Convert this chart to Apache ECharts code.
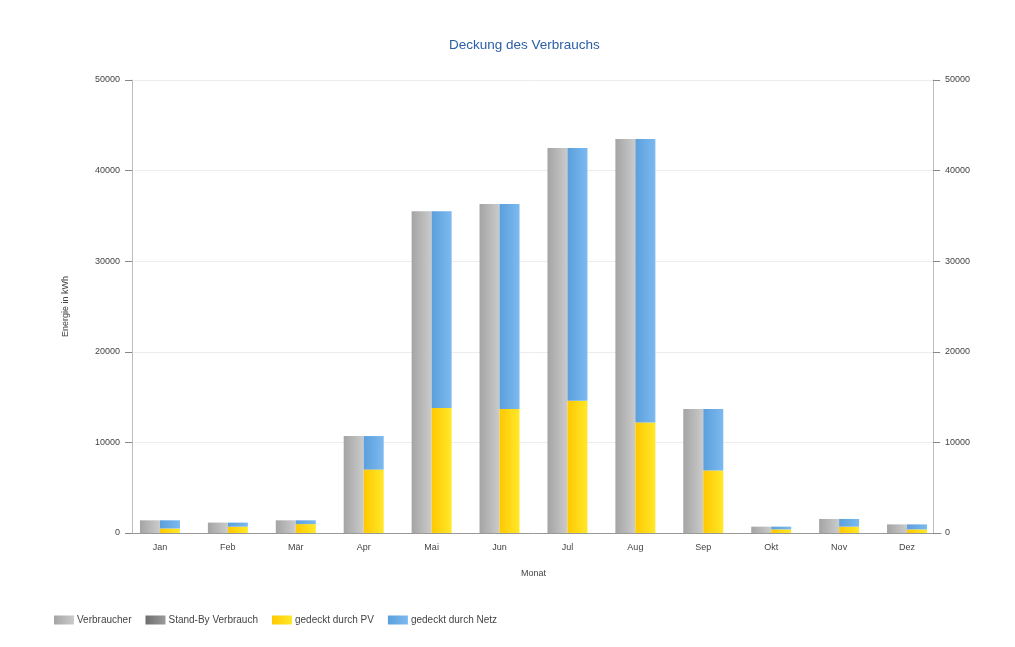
<!DOCTYPE html>
<html><head><meta charset="utf-8">
<script src="https://cdn.jsdelivr.net/npm/echarts@6/dist/echarts.min.js"></script>
<style>html,body{margin:0;padding:0;background:#fff}#c{width:1015px;height:647px}</style>
</head><body><div id="c"></div>
<script>
const months = ['Jan','Feb','Mär','Apr','Mai','Jun','Jul','Aug','Sep','Okt','Nov','Dez'];
const verbraucher = [1400,1150,1400,10700,35500,36300,42500,43500,13700,700,1550,950];
const standBy = [0,0,0,0,0,0,0,0,0,0,0,0];
const pv = [500,700,980,7000,13800,13700,14600,12200,6900,400,700,400];
const netz = verbraucher.map((v,i)=>v-pv[i]);
const yTicks = [0,10000,20000,30000,40000,50000];

function grad(a,b){return new echarts.graphic.LinearGradient(0,0,1,0,[{offset:0,color:a},{offset:1,color:b}]);}
const font = 'Liberation Sans';
const chart = echarts.init(document.getElementById('c'));
const yAxisCommon = {
  type:'value', min:yTicks[0], max:yTicks[yTicks.length-1], interval:10000,
  axisLine:{show:true,lineStyle:{color:'#bdbdbd'}},
  axisTick:{show:true,length:7,lineStyle:{color:'#888'}},
  axisLabel:{fontFamily:font,fontSize:9,color:'#444',margin:12,formatter:v=>String(v)},
  splitLine:{show:true,lineStyle:{color:'#ececec'}}
};
chart.setOption({
  animation:false,
  title:{text:'Deckung des Verbrauchs',left:444,top:33,textStyle:{fontFamily:font,fontSize:13.5,fontWeight:'normal',color:'#2a5ea8'}},
  legend:{left:49,top:610,itemWidth:20,itemHeight:9,itemGap:14,icon:'rect',
    textStyle:{fontFamily:font,fontSize:10,color:'#444',padding:[0,0,0,-2]},
    data:['Verbraucher','Stand-By Verbrauch','gedeckt durch PV','gedeckt durch Netz']},
  grid:{left:126,right:74,top:80,bottom:114},
  xAxis:{type:'category',data:months,name:'Monat',nameLocation:'middle',nameGap:36,
    nameTextStyle:{fontFamily:font,fontSize:9,color:'#444'},
    axisLine:{lineStyle:{color:'#999'}},axisTick:{alignWithLabel:true,length:5,lineStyle:{color:'#666'}},
    axisLabel:{fontFamily:font,fontSize:9,color:'#444',margin:10}},
  yAxis:[
    Object.assign({},yAxisCommon,{position:'left',offset:-6,name:'Energie in kWh',nameLocation:'middle',nameGap:62,nameRotate:90,
      nameTextStyle:{fontFamily:font,fontSize:9,color:'#444'}}),
    Object.assign({},yAxisCommon,{position:'right',offset:-8,splitLine:{show:false}})
  ],
  series:[
    {name:'Verbraucher',type:'bar',stack:'a',barWidth:20,barGap:'0%',data:verbraucher,
      itemStyle:{color:grad('#a4a4a4','#cbcbcb')}},
    {name:'Stand-By Verbrauch',type:'bar',stack:'a',barWidth:20,barGap:'0%',data:standBy,
      itemStyle:{color:grad('#6e6e6e','#9a9a9a')}},
    {name:'gedeckt durch PV',type:'bar',stack:'b',barWidth:20,barGap:'0%',data:pv,
      itemStyle:{color:grad('#ffc800','#ffe82a')}},
    {name:'gedeckt durch Netz',type:'bar',stack:'b',barWidth:20,barGap:'0%',data:netz,
      itemStyle:{color:grad('#5b9fdb','#7cbaf0')}}
  ]
});
</script></body></html>
